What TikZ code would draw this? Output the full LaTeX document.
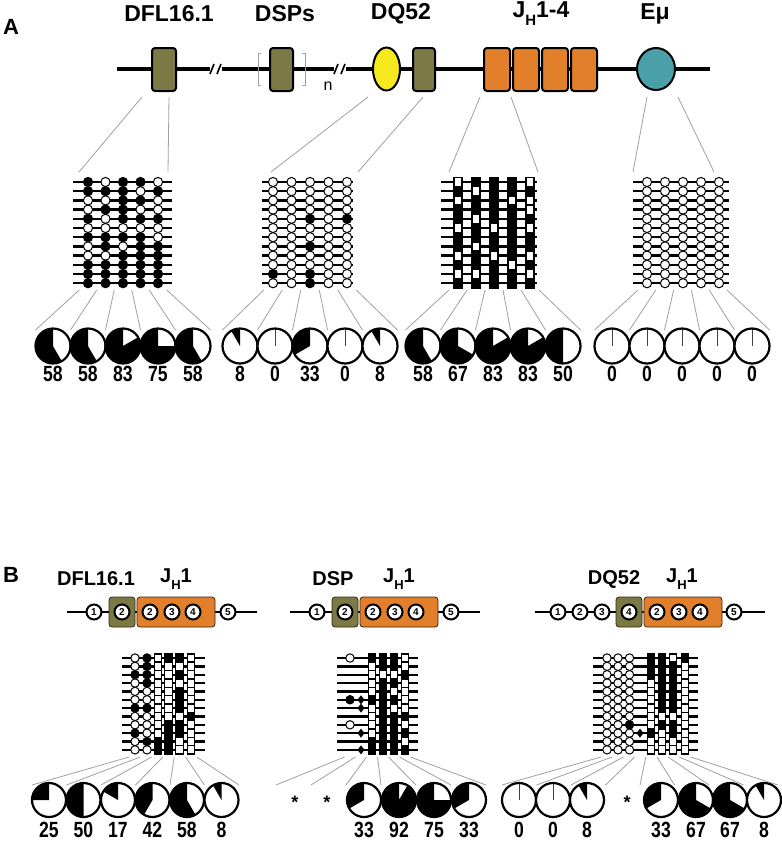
\documentclass[tikz,border=0pt]{standalone}
\usepackage{fontspec}
\setmainfont{Liberation Sans}
\newfontfamily\numfont[FakeStretch=0.8]{Liberation Sans}
\definecolor{olivebox}{HTML}{7B7A45}
\definecolor{orangebox}{HTML}{E17F2A}
\definecolor{yellowbox}{HTML}{F6EA1F}
\definecolor{tealbox}{HTML}{4AA0A9}
\definecolor{conn}{HTML}{A0A0A0}
\def\hlw{2.4pt}
\newcommand{\hlines}[5]{%
  \foreach \j in {1,...,#5}{\draw[line width=\hlw] (#1,{#3+(\j-1)*#4}) -- (#2,{#3+(\j-1)*#4});}}
\newcommand{\ccol}[5]{%
  \foreach \v [count=\j] in {#5}{%
    \ifnum\v<2
      \ifnum\v=1 \def\fc{black}\else\def\fc{white}\fi
      \draw[line width=1pt, fill=\fc] (#1,{#2+(\j-1)*#3}) circle[radius=#4];
    \fi}}
\newcommand{\scol}[5]{%
  \foreach \v [count=\j] in {#5}{%
    \ifnum\v=1 \def\fc{black}\else\def\fc{white}\fi
    \draw[line width=1.4pt, fill=\fc] ({#1-#4/2},{#2+(\j-1.5)*#3}) rectangle ({#1+#4/2},{#2+(\j-0.5)*#3});}}
\newcommand{\dcol}[4]{%
  \foreach \v [count=\j] in {#4}{%
    \ifnum\v=1 \fill (#1,{#2+(\j-1)*#3}) +(0,-4.5) -- +(3.5,0) -- +(0,4.5) -- +(-3.5,0) -- cycle;\fi}}
\newcommand{\pie}[4]{%
  \fill[white] (#1,#2) circle[radius=#3];
  \ifnum#4>0 \fill (#1,#2) -- ++(0,-#3) arc[start angle=-90, end angle={-90-30*#4}, radius=#3] -- cycle;
  \else \draw[line width=1pt, black!75] (#1,#2) -- ++(0,-#3);\fi
  \draw[line width=2.2pt] (#1,#2) circle[radius=#3];}
\begin{document}
\begin{tikzpicture}[x=1pt,y=-1pt,
  title/.style={font=\bfseries\fontsize{23}{23}\selectfont, inner sep=0pt},
  titleb/.style={font=\bfseries\fontsize{20}{20}\selectfont, inner sep=0pt},
  num/.style={font=\numfont\bfseries\fontsize{22}{22}\selectfont, inner sep=0pt},
  cn/.style={draw=conn, line width=0.8pt},
  gbox/.style={draw=black, line width=2pt, rounded corners=3pt},
  bbox/.style={draw=black!70!brown, line width=0.8pt, rounded corners=3pt},
  bcirc/.style={circle, draw=black, line width=2pt, fill=white, minimum size=15pt, inner sep=0pt, font=\bfseries\fontsize{10}{10}\selectfont},
  stl/.style={font=\bfseries\fontsize{18}{18}\selectfont, inner sep=0pt}]
\useasboundingbox[fill=white] (0,0) rectangle (782,847);

% ================= PANEL A =================
\node[font=\bfseries\fontsize{22}{22}\selectfont, inner sep=0pt] (labA) at (11,27) {A};
\node[title] (tDFL) at (169,14) {DFL16.1};
\node[title] (tDSP) at (285,14) {DSPs};
\node[title] (tDQ) at (401,14) {DQ52};
\node[title] (tJH) at (541,14) {J\raisebox{-0.35em}{\fontsize{15}{15}\selectfont H}1-4};
\node[title] (tE) at (655,14) {Eμ};

% chromosome line
\draw[line width=4.5pt] (117,69) -- (710,69);
% breaks
\foreach \bx in {216,340}{
  \fill[white] (\bx-6,63) rectangle (\bx+6,75);
  \draw[line width=1.6pt] (\bx-6,74) -- (\bx-2,64);
  \draw[line width=1.6pt] (\bx+1,74) -- (\bx+5,64);}
\filldraw[gbox, fill=olivebox] (152,48) rectangle (176,91);
\filldraw[gbox, fill=olivebox] (270,48) rectangle (293,91);
\draw[conn, line width=0.8pt] (261,53) -- (258,53) -- (258,85) -- (261,85);
\draw[conn, line width=0.8pt] (302,53) -- (305,53) -- (305,85) -- (302,85);
\node[font=\fontsize{16}{16}\selectfont, inner sep=0pt] (nn) at (328,86) {n};
\filldraw[draw=black, line width=2pt, fill=yellowbox] (386.5,69) ellipse[x radius=13.5, y radius=21.5];
\filldraw[gbox, fill=olivebox] (413,48) rectangle (435,91);
\foreach \jx in {484,513,542,571}{\filldraw[gbox, fill=orangebox] (\jx,48) rectangle (\jx+26,91);}
\filldraw[draw=black, line width=2pt, fill=tealbox] (656,69) ellipse[x radius=19, y radius=21];

% connectors gene -> grids
\draw[cn] (142,97) -- (79,172);
\draw[cn] (169,97) -- (168,172);
\draw[cn] (368,97) -- (271,172);
\draw[cn] (423,97) -- (358,172);
\draw[cn] (480,97) -- (449,172);
\draw[cn] (511,97) -- (538,172);
\draw[cn] (647,97) -- (633,172);
\draw[cn] (678,97) -- (714,172);

% grids A  (rows y0=182, dy=9.2)
\def\ya{182}\def\dya{9.2}
% DFL16.1
\hlines{73}{172}{\ya}{\dya}{12}
\ccol{88}{\ya}{\dya}{4.6}{1,1,0,0,1,0,1,0,0,1,1,1}
\ccol{105.5}{\ya}{\dya}{4.6}{0,1,0,1,0,0,1,1,0,1,1,1}
\ccol{123}{\ya}{\dya}{4.6}{1,1,1,1,1,0,1,0,1,1,1,1}
\ccol{140.5}{\ya}{\dya}{4.6}{1,0,1,0,1,0,1,1,1,1,1,1}
\ccol{158}{\ya}{\dya}{4.6}{0,1,0,0,1,0,0,1,1,1,1,1}
% DQ52 region
\hlines{262}{353}{\ya}{\dya}{12}
\ccol{273}{\ya}{\dya}{4.6}{0,0,0,0,0,0,0,0,0,0,1,0}
\ccol{291.5}{\ya}{\dya}{4.6}{0,0,0,0,0,0,0,0,0,0,0,0}
\ccol{310}{\ya}{\dya}{4.6}{0,0,0,0,1,0,0,1,0,0,1,1}
\ccol{328.5}{\ya}{\dya}{4.6}{0,0,0,0,0,0,0,0,0,0,0,0}
\ccol{347}{\ya}{\dya}{4.6}{0,0,0,0,1,0,0,0,0,0,0,0}
% JH
\hlines{441}{537}{\ya}{\dya}{12}
\scol{458}{\ya}{\dya}{8}{0,1,0,1,1,0,1,1,0,1,0,1}
\scol{476}{\ya}{\dya}{8}{1,0,1,1,0,1,1,0,1,1,0,1}
\scol{494}{\ya}{\dya}{8}{1,1,1,1,1,0,1,1,0,1,1,1}
\scol{512}{\ya}{\dya}{8}{1,1,0,1,1,1,1,1,1,0,1,1}
\scol{530}{\ya}{\dya}{8}{0,1,0,0,1,0,1,1,0,1,0,1}
% Emu
\hlines{633}{729}{\ya}{\dya}{12}
\foreach \cx in {647,665,683,701,719}{\ccol{\cx}{\ya}{\dya}{4.6}{0,0,0,0,0,0,0,0,0,0,0,0}}

% connectors grids -> pies
\foreach \i in {0,...,5}{
  \draw[cn] ({79.25+17.5*\i},290) -- ({35.5+35*\i},330);
  \draw[cn] ({263.75+18.5*\i},290) -- ({222.5+35*\i},330);
  \draw[cn] ({449+18*\i},290) -- ({405.5+35*\i},330);
  \draw[cn] ({638+17.8*\i},290) -- ({594.5+35*\i},330);}

% pies A
\foreach \x/\k/\t [count=\i] in {53/7/58,88/7/58,123/10/83,158/9/75,193/7/58}{
  \pie{\x}{346}{17.5}{\k}\node[num] (pA1-\i) at (\x,374) {\t};}
\foreach \x/\k/\t [count=\i] in {240/1/8,275/0/0,310/4/33,345/0/0,380/1/8}{
  \pie{\x}{346}{17.5}{\k}\node[num] (pA2-\i) at (\x,374) {\t};}
\foreach \x/\k/\t [count=\i] in {423/7/58,458/8/67,493/10/83,528/10/83,563/6/50}{
  \pie{\x}{346}{17.5}{\k}\node[num] (pA3-\i) at (\x,374) {\t};}
\foreach \x/\k/\t [count=\i] in {612/0/0,647/0/0,682/0/0,717/0/0,752/0/0}{
  \pie{\x}{346}{17.5}{\k}\node[num] (pA4-\i) at (\x,374) {\t};}

% ================= PANEL B =================
\node[font=\bfseries\fontsize{22}{22}\selectfont, inner sep=0pt] (labB) at (11,575) {B};
\node[titleb] (bDFL) at (96,579) {DFL16.1};
\node[titleb] (bJ1) at (176,579) {J\raisebox{-0.35em}{\fontsize{13}{13}\selectfont H}1};
\node[titleb] (bDSP) at (333,579) {DSP};
\node[titleb] (bJ2) at (399,579) {J\raisebox{-0.35em}{\fontsize{13}{13}\selectfont H}1};
\node[titleb] (bDQ) at (614,579) {DQ52};
\node[titleb] (bJ3) at (682,579) {J\raisebox{-0.35em}{\fontsize{13}{13}\selectfont H}1};

% maps
\draw[line width=2.5pt] (67,612) -- (257,612);
\draw[line width=2.5pt] (290,612) -- (480,612);
\draw[line width=2.5pt] (535,612) -- (765,612);
\filldraw[bbox, fill=olivebox] (109,597) rectangle (135,627);
\filldraw[bbox, fill=orangebox] (137,597) rectangle (215,627);
\filldraw[bbox, fill=olivebox] (332,597) rectangle (358,627);
\filldraw[bbox, fill=orangebox] (360,597) rectangle (438,627);
\filldraw[bbox, fill=olivebox] (616,597) rectangle (642,627);
\filldraw[bbox, fill=orangebox] (644,597) rectangle (722,627);
\foreach \x/\t [count=\i] in {94/1,122/2,150/2,172/3,193/4,228/5}{\node[bcirc] (m1-\i) at (\x,612) {\t};}
\foreach \x/\t [count=\i] in {317/1,345/2,373/2,395/3,416/4,451/5}{\node[bcirc] (m2-\i) at (\x,612) {\t};}
\foreach \x/\t [count=\i] in {558/1,580/2,602/3,629/4,657/2,679/3,700/4,734/5}{\node[bcirc] (m3-\i) at (\x,612) {\t};}

% grids B (rows y0=658, dy=8.35)
\def\yb{658}\def\dyb{8.35}
% DFL
\hlines{122}{205}{\yb}{\dyb}{12}
\ccol{135}{\yb}{\dyb}{4.2}{0,0,1,0,0,0,1,0,0,1,0,0}
\ccol{147}{\yb}{\dyb}{4.2}{1,1,1,1,0,0,1,0,0,0,1,0}
\scol{158}{\yb}{\dyb}{7.5}{0,0,0,0,0,0,0,0,0,0,1,1}
\scol{168.5}{\yb}{\dyb}{7.5}{1,0,0,0,0,0,0,0,1,1,1,1}
\scol{179.5}{\yb}{\dyb}{7.5}{1,0,1,0,1,1,1,0,1,1,0,0}
\scol{191}{\yb}{\dyb}{7.5}{0,0,0,0,0,0,0,1,0,0,0,0}
% DSP
\hlines{337}{418}{\yb}{\dyb}{12}
\ccol{350}{\yb}{\dyb}{4.2}{0,2,2,2,2,1,2,2,0,2,2,2}
\dcol{361}{\yb}{\dyb}{0,0,0,0,0,1,1,0,0,1,0,1}
\scol{372}{\yb}{\dyb}{7.5}{1,0,0,0,0,1,0,0,0,0,1,1}
\scol{383}{\yb}{\dyb}{7.5}{1,1,0,1,1,1,1,1,1,1,1,1}
\scol{394}{\yb}{\dyb}{7.5}{1,1,0,1,0,1,0,1,1,1,1,1}
\scol{405}{\yb}{\dyb}{7.5}{0,0,1,0,0,0,0,1,0,1,0,1}
% DQ52
\hlines{593}{698}{\yb}{\dyb}{12}
\ccol{607}{\yb}{\dyb}{4.2}{0,0,0,0,0,0,0,0,0,0,0,0}
\ccol{618}{\yb}{\dyb}{4.2}{0,0,0,0,0,0,0,0,0,0,0,0}
\ccol{629.5}{\yb}{\dyb}{4.2}{0,0,0,0,0,0,0,0,1,0,0,0}
\dcol{640}{\yb}{\dyb}{0,0,0,0,0,0,0,0,0,1,0,0}
\scol{651}{\yb}{\dyb}{7.5}{1,1,1,0,0,0,0,0,0,1,0,0}
\scol{662}{\yb}{\dyb}{7.5}{1,1,1,1,1,1,1,0,1,0,0,0}
\scol{673}{\yb}{\dyb}{7.5}{0,1,1,1,1,1,1,0,1,1,0,0}
\scol{685}{\yb}{\dyb}{7.5}{1,0,0,0,0,0,0,0,0,0,0,0}

% connectors B
\foreach \i in {0,...,6}{
  \draw[cn] ({129+11.3*\i},757) -- ({32+34.5*\i},785);
  \draw[cn] ({344.5+11*\i},757) -- ({276+35*\i},785);}
\foreach \i in {0,...,8}{
  \draw[cn] ({601+11.2*\i},757) -- ({502+34.5*\i},785);}

% pies B
\foreach \x/\k/\t [count=\i] in {49/3/25,83.5/6/50,118/2/17,152.5/5/42,187/7/58,221.5/1/8}{
  \pie{\x}{800}{17}{\k}\node[num] (pB1-\i) at (\x,830) {\t};}
\node[stl] (s1) at (295,802) {*};
\node[stl] (s2) at (327,802) {*};
\foreach \x/\k/\t [count=\i] in {364/4/33,399/11/92,434/9/75,469/4/33}{
  \pie{\x}{800}{17}{\k}\node[num] (pB2-\i) at (\x,830) {\t};}
\foreach \x/\k/\t [count=\i] in {519/0/0,553/0/0,587/1/8}{
  \pie{\x}{800}{17}{\k}\node[num] (pB3-\i) at (\x,830) {\t};}
\node[stl] (s3) at (627,802) {*};
\foreach \x/\k/\t [count=\i] in {661/4/33,696/8/67,730/8/67,764/1/8}{
  \pie{\x}{800}{17}{\k}\node[num] (pB4-\i) at (\x,830) {\t};}
\end{tikzpicture}
\end{document}
